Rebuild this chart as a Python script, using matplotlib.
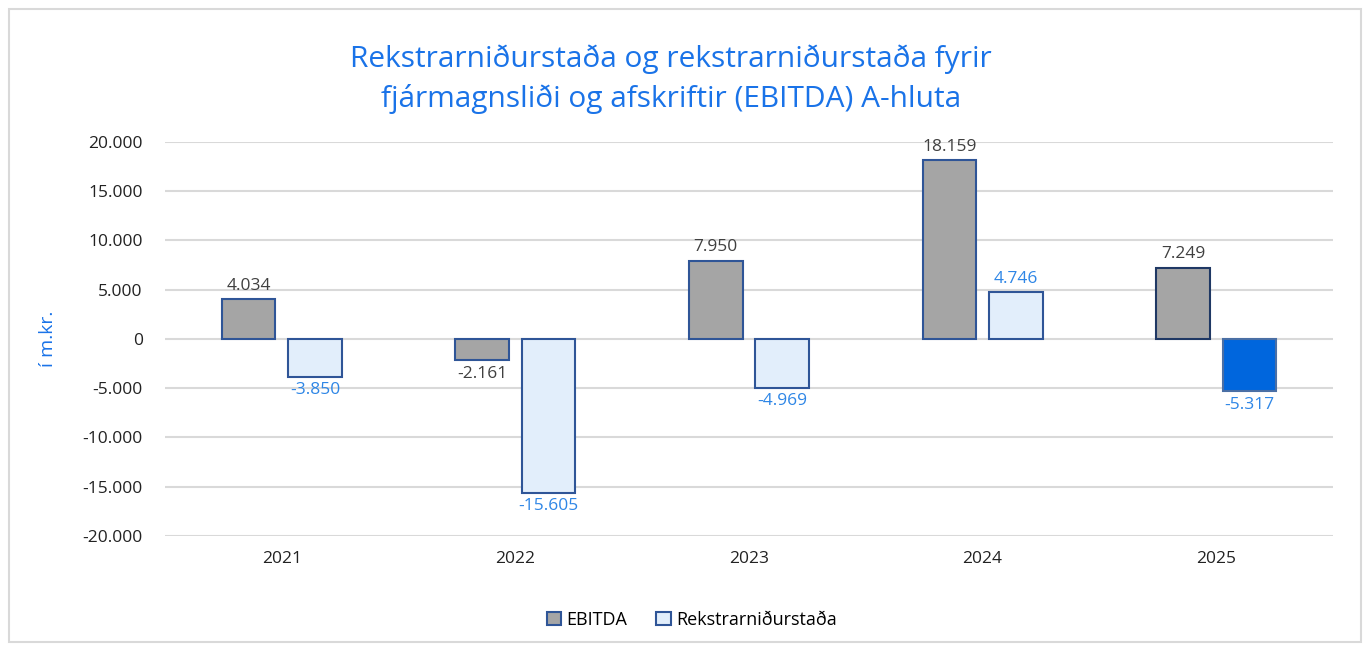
import matplotlib.pyplot as plt
import numpy as np
from matplotlib.patches import Rectangle

plt.rcParams['font.family'] = ['Open Sans', 'DejaVu Sans']

# gögn
ar = ['2021', '2022', '2023', '2024', '2025']
ebitda = [4034, -2161, 7950, 18159, 7249]
rekstur = [-3850, -15605, -4969, 4746, -5317]
yticks = [20000, 15000, 10000, 5000, 0, -5000, -10000, -15000, -20000]

def fmt(v):
    return f'{v:,.0f}'.replace(',', '.')

fig = plt.figure(figsize=(13.7, 6.51), dpi=100)
fig.patches.append(Rectangle((9/1370, 9/651), 1 - 18/1370, 1 - 18/651,
                             transform=fig.transFigure, fill=False,
                             edgecolor='#d9d9d9', linewidth=1.5))
ax = fig.add_axes([0.1204, 0.1767, 0.973 - 0.1204, 0.7819 - 0.1767])

x = np.arange(len(ar))
w = 0.23
off = 0.142

e_face = ['#a5a5a5'] * 5
e_edge = ['#2f5597'] * 4 + ['#1f3864']
r_face = ['#e2eefb'] * 4 + ['#0066dd']
r_edge = ['#2f5597'] * 4 + ['#4a6fa5']

ax.bar(x - off, ebitda, w, color=e_face, edgecolor=e_edge, linewidth=1.5,
       label='EBITDA', zorder=3)
ax.bar(x + off, rekstur, w, color=r_face, edgecolor=r_edge, linewidth=1.5,
       label='Rekstrarniðurstaða', zorder=3)

for xi, v in zip(x, ebitda):
    ax.annotate(fmt(v), (xi - off, v), xytext=(0, 4 if v > 0 else -4),
                textcoords='offset points', ha='center',
                va='bottom' if v > 0 else 'top', fontsize=12.5, color='#404040')
for xi, v in zip(x, rekstur):
    ax.annotate(fmt(v), (xi + off, v), xytext=(0, 4 if v > 0 else -4),
                textcoords='offset points', ha='center',
                va='bottom' if v > 0 else 'top', fontsize=12.5, color='#2e86e6')

ax.set_xlim(-0.5, len(ar) - 0.5)
ax.set_ylim(-20000, 20000)
ax.set_yticks(yticks)
ax.set_yticklabels([fmt(t) for t in yticks])
ax.set_xticks(x)
ax.set_xticklabels(ar)
ax.tick_params(axis='both', length=0, labelsize=12.5, colors='#222222')
ax.tick_params(axis='y', pad=16)
ax.tick_params(axis='x', pad=11)
for s in ax.spines.values():
    s.set_visible(False)
ax.grid(axis='y', color='#d9d9d9', linewidth=1.5, zorder=0)
ax.set_axisbelow(True)

ax.set_ylabel('í m.kr.', color='#1a73e8', fontsize=14, labelpad=18)

fig.text(0.49, 0.878, 'Rekstrarniðurstaða og rekstrarniðurstaða fyrir\nfjármagnsliði og afskriftir (EBITDA) A-hluta',
         ha='center', va='center', fontsize=21.5, color='#1a73e8', linespacing=1.45)

fig.legend(loc='center', bbox_to_anchor=(0.505, 0.048), ncol=2, frameon=False,
           fontsize=13, handlelength=0.8, handleheight=0.8, columnspacing=1.6,
           handletextpad=0.3)

fig.savefig('out.png', dpi=100)
